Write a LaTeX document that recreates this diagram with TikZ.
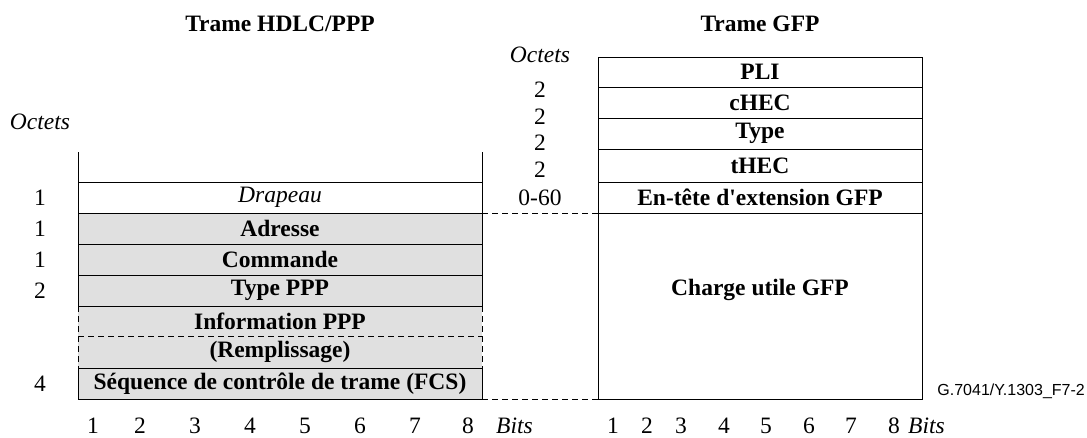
\documentclass[tikz,border=0pt]{standalone}
\usepackage{fontspec}
\setmainfont{Liberation Serif}[Ligatures=TeXOff]
\newfontfamily\labfont{Liberation Sans}
\usetikzlibrary{positioning}
\definecolor{cellgray}{RGB}{224,224,224}
\tikzset{
  champ/.style={draw, line width=0.9pt, inner sep=0pt, outer sep=0pt, anchor=north west,
    minimum width=404pt, minimum height=31pt, font=\bfseries},
  gfp/.style={champ, minimum width=324pt},
  tiret/.style={line width=0.9pt, dash pattern=on 6pt off 4pt},
  chiffre/.style={inner sep=0pt},
}

\begin{document}
\fontsize{23.5}{26}\selectfont%
\begin{tikzpicture}[x=1pt, y=-1pt]
\useasboundingbox (0,0) rectangle (1087,437);
% titres
\node[font=\bfseries] (thdlc) at (280,24) {Trame HDLC/PPP};
\node[font=\bfseries] (tgfp) at (760,24) {Trame GFP};
% trame HDLC/PPP
\node[champ, font=\itshape] (drap) at (78,182) {Drapeau};
\node[champ, fill=cellgray, below=0pt of drap] (adr) {Adresse};
\node[champ, fill=cellgray, below=0pt of adr] (cmd) {Commande};
\node[champ, fill=cellgray, below=0pt of cmd] (typ) {Type PPP};
\node[champ, draw=none, fill=cellgray, minimum height=30pt, below=0pt of typ] (info) {Information PPP};
\node[champ, draw=none, fill=cellgray, minimum height=32pt, below=0pt of info] (remp) {(Remplissage)};
\node[champ, fill=cellgray, below=0pt of remp] (fcs) {S\'equence de contr\^ole de trame (FCS)};
\draw[line width=0.9pt] (drap.north west) -- ++(0,-30);
\draw[line width=0.9pt] (drap.north east) -- ++(0,-30);
\draw[line width=0.9pt] (typ.south west) -- (typ.south east);
\draw[tiret] (info.north west) -- (remp.south west);
\draw[tiret] (info.north east) -- (remp.south east);
\draw[tiret] (info.south west) -- (info.south east);
% trame GFP
\node[gfp, minimum height=30pt] (pli) at (598,57) {PLI};
\node[gfp, below=0pt of pli] (chec) {cHEC};
\node[gfp, below=0pt of chec] (type) {Type};
\node[gfp, minimum height=33pt, below=0pt of type] (thec) {tHEC};
\node[gfp, below=0pt of thec] (ext) {En-t\^ete d'extension GFP};
\node[gfp, minimum height=186pt, below=0pt of ext] (pay) {};
\node[font=\bfseries] (paylab) at (760,290) {Charge utile GFP};
% correspondance
\draw[tiret] (adr.north east) -- (pay.north west);
\draw[tiret] (fcs.south east) -- (pay.south west);
% octets
\node[font=\itshape] (octg) at (40,122) {Octets};
\foreach \r/\lab in {drap/1, adr/1, cmd/1, typ/2, fcs/4}{
  \node[chiffre] (n\r) at (40,0 |- \r) {\lab};
}
\node[font=\itshape] (octm) at (540,55) {Octets};
\foreach \yy/\lab [count=\i] in {90/2, 117/2, 143/2, 170/2, 198/0-60}{
  \node[chiffre] (m\i) at (540,\yy) {\lab};
}
% bits
\foreach \xi/\lab in {93/1, 140/2, 195/3, 250/4, 305/5, 360/6, 415/7, 468/8}{
  \node[chiffre] (bg\lab) at (\xi,426) {\lab};
}
\node[chiffre, font=\itshape, anchor=west] (bitsg) at (496,426) {Bits};
\foreach \xi/\lab in {613/1, 647/2, 681/3, 724/4, 766/5, 809/6, 851/7, 894/8}{
  \node[chiffre] (bd\lab) at (\xi,426) {\lab};
}
\node[chiffre, font=\itshape, anchor=west] (bitsd) at (908,426) {Bits};
\node[font=\labfont\fontsize{16}{18}\selectfont, anchor=east, inner sep=0pt] (ref) at (1085,391) {G.7041/Y.1303\_F7-2};
\end{tikzpicture}
\end{document}
